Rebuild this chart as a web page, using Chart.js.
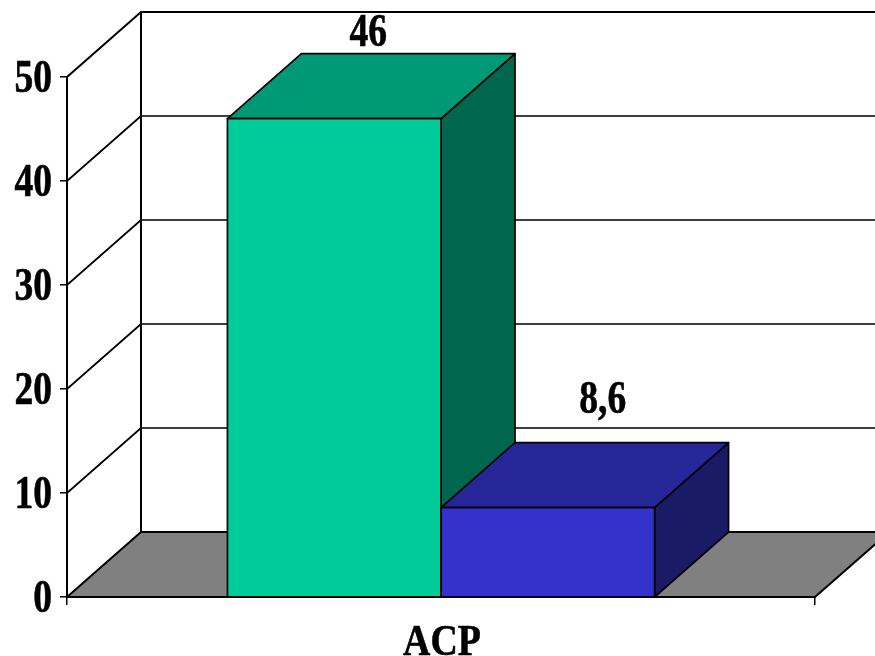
<!DOCTYPE html>
<html>
<head>
<meta charset="utf-8">
<title>ACP</title>
<script src="https://cdn.jsdelivr.net/npm/chart.js@4/dist/chart.umd.min.js"></script>
<style>
  body { margin: 0; background: #fff; }
  canvas { display: block; }
</style>
</head>
<body>
<canvas id="myChart" width="875" height="656"></canvas>
<script>
// Chart data
const categories = ["ACP"];
const seriesNames = ["A", "B"];
const seriesValues = [46, 8.6];
const valueLabels = ["46", "8,6"];

// Colors per bar: front, top and side faces
const frontColors = ["#00CC99", "#3333CC"];
const topColors = ["#009976", "#262699"];
const sideColors = ["#00664E", "#1A1A66"];

// How far the box goes back, in pixels
const DEPTH_X = 74;
const DEPTH_Y = -65;
const FONT = "'Liberation Serif', 'Times New Roman', serif";

// Value labels were placed by hand above the bars
const labelShiftX = [34, 55];
const labelShiftY = [-73, -95];

function polygon(ctx, points, fill) {
  ctx.beginPath();
  points.forEach((p, i) => (i ? ctx.lineTo(p[0], p[1]) : ctx.moveTo(p[0], p[1])));
  ctx.closePath();
  ctx.fillStyle = fill;
  ctx.fill();
  ctx.stroke();
}

// Bold serif text squeezed horizontally
function squeezedText(ctx, text, x, y, size, squeeze, align) {
  ctx.save();
  ctx.translate(x, y);
  ctx.scale(squeeze, 1);
  ctx.font = "bold " + size + "px " + FONT;
  ctx.fillStyle = "#000";
  ctx.strokeStyle = "#000";
  ctx.lineWidth = 0.6;
  ctx.textAlign = align;
  ctx.textBaseline = "alphabetic";
  ctx.fillText(text, 0, 0);
  ctx.strokeText(text, 0, 0);
  ctx.restore();
}

// Floor, back wall, side wall and the top and side faces of the bars
const boxPlugin = {
  id: "box3d",
  beforeDatasetsDraw(chart) {
    const ctx = chart.ctx;
    const area = chart.chartArea;
    const yScale = chart.scales.y;
    const zeroY = yScale.getPixelForValue(0);
    const backX = area.left + DEPTH_X;

    ctx.save();
    ctx.strokeStyle = "#000";
    ctx.lineJoin = "round";

    ctx.lineWidth = 2;
    polygon(ctx, [
      [area.left, zeroY],
      [backX, zeroY + DEPTH_Y],
      [area.right + DEPTH_X, zeroY + DEPTH_Y],
      [area.right, zeroY],
    ], "#808080");

    yScale.ticks.forEach((tick) => {
      if (tick.value === 0) return;
      const y = yScale.getPixelForValue(tick.value);
      ctx.lineWidth = tick.value === 50 ? 2 : 1.7;
      ctx.beginPath();
      ctx.moveTo(area.left, y);
      ctx.lineTo(backX, y + DEPTH_Y);
      ctx.lineTo(chart.width, y + DEPTH_Y);
      ctx.stroke();
    });

    ctx.lineWidth = 2;
    ctx.beginPath();
    ctx.moveTo(backX, yScale.getPixelForValue(50) + DEPTH_Y);
    ctx.lineTo(backX, zeroY + DEPTH_Y);
    ctx.stroke();

    ctx.lineWidth = 1.7;
    chart.data.datasets.forEach((dataset, i) => {
      const bar = chart.getDatasetMeta(i).data[0];
      const left = bar.x - bar.width / 2;
      const right = bar.x + bar.width / 2;
      polygon(ctx, [
        [right, bar.y],
        [right + DEPTH_X, bar.y + DEPTH_Y],
        [right + DEPTH_X, zeroY + DEPTH_Y],
        [right, zeroY],
      ], sideColors[i]);
      polygon(ctx, [
        [left, bar.y],
        [left + DEPTH_X, bar.y + DEPTH_Y],
        [right + DEPTH_X, bar.y + DEPTH_Y],
        [right, bar.y],
      ], topColors[i]);
    });
    ctx.restore();
  },
  afterDraw(chart) {
    const ctx = chart.ctx;
    const area = chart.chartArea;
    const yScale = chart.scales.y;
    const zeroY = yScale.getPixelForValue(0);

    // Outline the front faces on the same edges as the top and side faces
    ctx.save();
    ctx.strokeStyle = "#000";
    ctx.lineWidth = 1.7;
    chart.data.datasets.forEach((dataset, i) => {
      const bar = chart.getDatasetMeta(i).data[0];
      ctx.strokeRect(bar.x - bar.width / 2, bar.y, bar.width, zeroY - bar.y);
    });
    ctx.restore();

    yScale.ticks.forEach((tick) => {
      squeezedText(ctx, String(tick.value), 52, yScale.getPixelForValue(tick.value) + 15, 47, 0.8, "right");
    });
    squeezedText(ctx, categories[0], (area.left + area.right) / 2 + 1, 655, 44, 0.86, "center");

    chart.data.datasets.forEach((dataset, i) => {
      const bar = chart.getDatasetMeta(i).data[0];
      squeezedText(ctx, valueLabels[i], bar.x + labelShiftX[i], bar.y + labelShiftY[i], 47, 0.8, "center");
    });
  },
};

const myChart = new Chart(document.getElementById("myChart").getContext("2d"), {
  type: "bar",
  data: {
    labels: categories,
    datasets: seriesValues.map((value, i) => ({
      label: seriesNames[i],
      data: [value],
      backgroundColor: frontColors[i],
      borderWidth: 0,
      categoryPercentage: 0.571,
      barPercentage: 1,
    })),
  },
  options: {
    responsive: false,
    animation: false,
    layout: { padding: { top: 77, right: 60, left: 0, bottom: 0 } },
    plugins: { legend: { display: false }, tooltip: { enabled: false } },
    scales: {
      x: {
        afterFit(scale) { scale.height = 59; },
        ticks: { display: false },
        grid: { drawOnChartArea: false, color: "#000", lineWidth: 1.5, tickLength: 8 },
        border: { color: "#000", width: 2 },
      },
      y: {
        min: 0,
        max: 50,
        afterFit(scale) { scale.width = 67; },
        ticks: { display: false, stepSize: 10 },
        grid: { drawOnChartArea: false, color: "#000", lineWidth: 1.5, tickLength: 7 },
        border: { color: "#000", width: 2 },
      },
    },
  },
  plugins: [boxPlugin],
});
</script>
</body>
</html>
